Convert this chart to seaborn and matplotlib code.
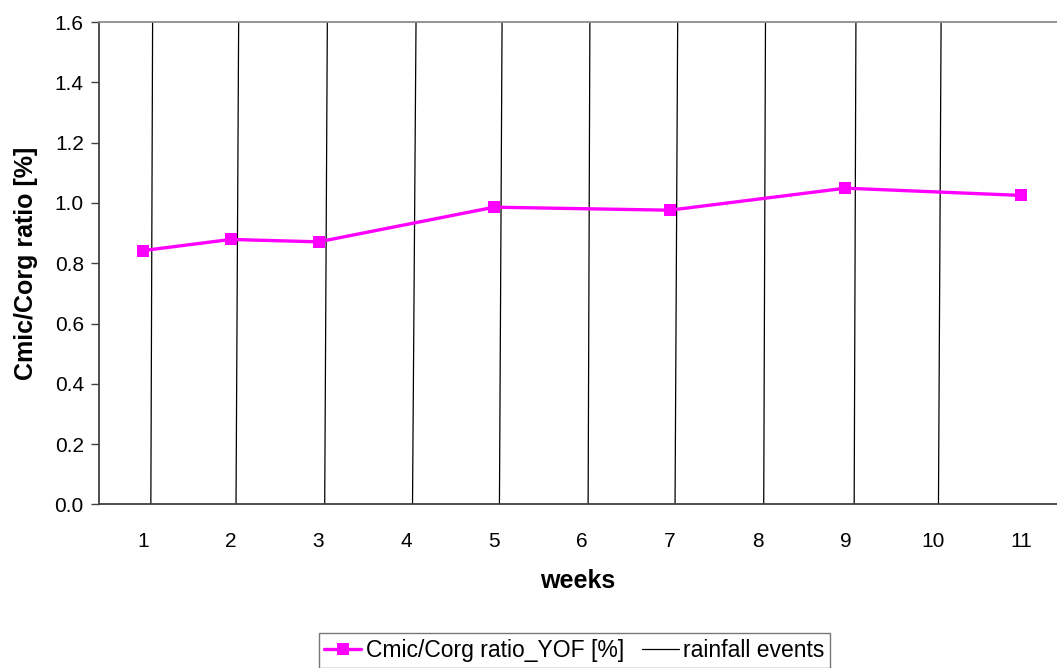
import matplotlib
matplotlib.use('Agg')
import matplotlib.pyplot as plt
from matplotlib.lines import Line2D
import pandas as pd
import seaborn as sns

# data
weeks = [1, 2, 3, 5, 7, 9, 11]
cmic_corg = [0.842, 0.879, 0.871, 0.986, 0.976, 1.049, 1.025]
week_ticks = list(range(1, 12))

# rainfall events drawn as (slightly slanted) vertical lines
rain_x_bottom = [1.09, 2.06, 3.07, 4.07, 5.06, 6.07, 7.06, 8.07, 9.10, 10.06]
rain_x_top = [1.11, 2.09, 3.10, 4.11, 5.09, 6.09, 7.09, 8.09, 9.12, 10.09]
y_range = [0.0, 1.6]

series = pd.DataFrame({'week': weeks, 'ratio': cmic_corg})

rows = []
for i, (xb, xt) in enumerate(zip(rain_x_bottom, rain_x_top)):
    rows.append({'event': i, 'x': xb, 'y': y_range[0]})
    rows.append({'event': i, 'x': xt, 'y': y_range[1]})
rain = pd.DataFrame(rows)

sns.set_style('white')
plt.rcParams['font.family'] = ['Liberation Sans', 'DejaVu Sans']
plt.rcParams['text.color'] = 'black'
plt.rcParams['axes.labelcolor'] = 'black'
plt.rcParams['xtick.color'] = 'black'
plt.rcParams['ytick.color'] = 'black'

fig = plt.figure(figsize=(10.57, 6.68), dpi=100)
ax = fig.add_axes([0.0937, 0.2448, 0.9063, 0.7222])

sns.lineplot(data=rain, x='x', y='y', units='event', estimator=None,
             sort=False, color='black', linewidth=0.9, ax=ax, legend=False)
sns.lineplot(data=series, x='week', y='ratio', color='#FF00FF',
             linewidth=2.4, marker='s', markersize=9, markeredgewidth=0,
             ax=ax, legend=False)

ax.set_xlim(0.5, 11.41)
ax.set_ylim(0, 1.6)
ax.set_xticks(week_ticks)
ax.set_xticklabels([str(w) for w in week_ticks])
ax.set_yticks([0, 0.2, 0.4, 0.6, 0.8, 1.0, 1.2, 1.4, 1.6])
ax.set_yticklabels(['%.1f' % v for v in ax.get_yticks()])

ax.tick_params(axis='y', length=6, width=1, color='#404040', pad=5,
               labelsize=15, left=True)
ax.tick_params(axis='x', length=0, pad=20, labelsize=15)

ax.set_xlabel('weeks', fontsize=18, fontweight='bold', labelpad=13)
ax.set_ylabel('Cmic/Corg ratio [%]', fontsize=18, fontweight='bold',
              labelpad=12)

ax.spines['left'].set_color('#404040')
ax.spines['left'].set_linewidth(1.3)
ax.spines['bottom'].set_color('#404040')
ax.spines['bottom'].set_linewidth(1.3)
ax.spines['top'].set_color('#8c8c8c')
ax.spines['top'].set_linewidth(1.3)
ax.spines['right'].set_visible(False)

handles = [
    Line2D([], [], color='#FF00FF', linewidth=2.4, marker='s',
           markersize=9, markeredgewidth=0),
    Line2D([], [], color='black', linewidth=0.9),
]
leg = fig.legend(handles, ['Cmic/Corg ratio_YOF [%]', 'rainfall events'],
                 loc='upper center', bbox_to_anchor=(0.5435, 0.052), ncol=2,
                 fontsize=16.5, frameon=True, fancybox=False,
                 handlelength=1.6, handletextpad=0.2, columnspacing=0.8,
                 borderpad=0.25, borderaxespad=0)
leg.get_frame().set_edgecolor('#555555')
leg.get_frame().set_linewidth(1.0)

fig.savefig('out.png', dpi=100)
